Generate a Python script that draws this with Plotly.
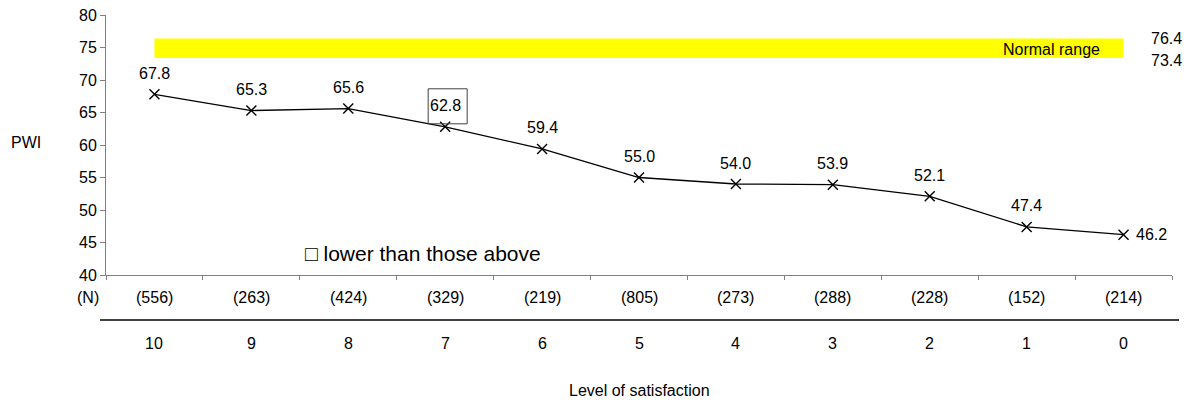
import plotly.graph_objects as go

# Personal Wellbeing Index by level of satisfaction
levels = ["10", "9", "8", "7", "6", "5", "4", "3", "2", "1", "0"]
pwi = [67.8, 65.3, 65.6, 62.8, 59.4, 55.0, 54.0, 53.9, 52.1, 47.4, 46.2]
counts = [556, 263, 424, 329, 219, 805, 273, 288, 228, 152, 214]
normal_low = 73.4
normal_high = 76.4
boxed_level = "7"

FONT = "Liberation Sans, Arial, sans-serif"
FS = 16
idx = list(range(len(levels)))

fig = go.Figure()

fig.add_trace(go.Scatter(
    x=idx, y=pwi, mode="lines+markers",
    line=dict(color="black", width=1.3),
    marker=dict(symbol="x-thin-open", size=10, color="black",
                line=dict(color="black", width=1.4)),
    showlegend=False, hoverinfo="skip",
))

# Normal range band
fig.add_shape(type="rect", xref="x", yref="y", x0=idx[0], x1=idx[-1],
              y0=normal_low, y1=normal_high, fillcolor="#ffff00",
              line=dict(width=0), layer="below")


def label(**kw):
    base = dict(showarrow=False, xanchor="center", yanchor="middle",
                font=dict(size=FS))
    base.update(kw)
    return base


ann = []
ann.append(label(x=idx[-1], y=(normal_low + normal_high) / 2, xref="x", yref="y",
                 text="Normal range", xanchor="right", xshift=-22, yshift=-1))
ann.append(label(x=0.995, y=normal_high, xref="paper", yref="y",
                 text=f"{normal_high:.1f}"))
ann.append(label(x=0.995, y=normal_low, xref="paper", yref="y", yshift=-3,
                 text=f"{normal_low:.1f}"))

# Value labels
for i, v in zip(idx, pwi):
    if i == idx[-1]:
        ann.append(label(x=i, y=v, xref="x", yref="y", text=f"{v:.1f}",
                         xanchor="left", xshift=10))
    else:
        ann.append(label(x=i, y=v, xref="x", yref="y", text=f"{v:.1f}",
                         yshift=21))

# Box around the highlighted value
bi = levels.index(boxed_level)
fig.add_shape(type="rect", xref="x", yref="y", xsizemode="pixel",
              ysizemode="pixel", xanchor=bi, yanchor=pwi[bi],
              x0=-17, x1=22, y0=3, y1=38,
              line=dict(color="#404040", width=1), fillcolor="rgba(0,0,0,0)")

# Count row and category row under the axis
ann.append(label(x=-0.017, y=-0.088, xref="paper", yref="paper", text="(N)"))
for i, n, lv in zip(idx, counts, levels):
    ann.append(label(x=i, y=-0.088, xref="x", yref="paper", text=f"({n})"))
    ann.append(label(x=i, y=-0.262, xref="x", yref="paper", text=lv))
fig.add_shape(type="line", xref="paper", yref="paper", x0=-0.0056, x1=1.0066,
              y0=-0.173, y1=-0.173, line=dict(color="black", width=1.3))

ann.append(label(x=0.5, y=-0.446, xref="paper", yref="paper",
                 text="Level of satisfaction"))
ann.append(label(x=-0.0755, y=0.508, xref="paper", yref="paper", text="PWI"))
ann.append(label(x=0.1848, y=0.081, xref="paper", yref="paper",
                 text="\u25a1 lower than those above", xanchor="left",
                 font=dict(size=21)))

fig.update_layout(
    width=1192, height=400,
    margin=dict(l=106, r=20, t=15, b=125, autoexpand=False),
    paper_bgcolor="white", plot_bgcolor="white",
    font=dict(family=FONT, size=FS, color="black"),
    annotations=ann,
    xaxis=dict(range=[-0.5, len(levels) - 0.5], automargin=False,
               tickvals=[i - 0.5 for i in range(len(levels) + 1)],
               showticklabels=False, ticks="outside", ticklen=4,
               tickcolor="#808080", showline=True, linecolor="#808080",
               linewidth=1.3, showgrid=False, zeroline=False),
    yaxis=dict(range=[40, 80], tickvals=list(range(40, 81, 5)),
               automargin=False,
               ticks="outside", ticklen=5, tickcolor="#808080",
               showline=True, linecolor="#808080", linewidth=1,
               showgrid=False, zeroline=False,
               tickfont=dict(size=FS)),
)

fig.write_html("out.html")
